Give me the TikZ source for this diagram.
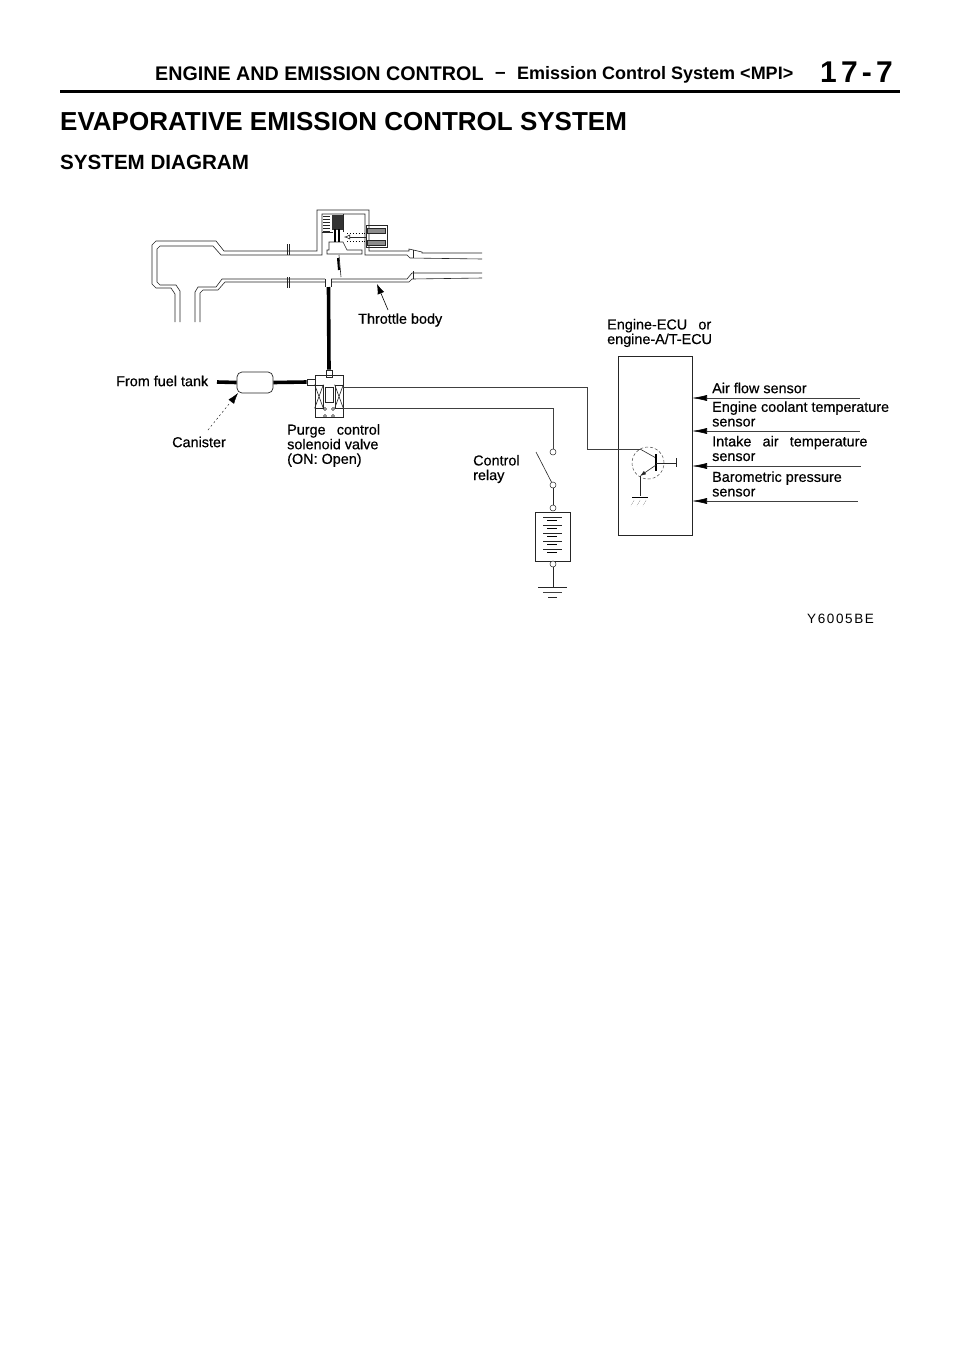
\documentclass[tikz,border=0pt]{standalone}
\usepackage{fontspec}
\setmainfont{Liberation Sans}
\newfontfamily\scanfont[RawFeature={embolden=0.5}]{Liberation Sans}
\usetikzlibrary{arrows.meta,shapes.geometric}
\tikzset{
    wall/.style={draw=black!85,line width=0.6pt},
    wire/.style={draw=black!75,line width=0.55pt},
    hose/.style={draw=black,line width=3.6pt},
    box/.style={draw=black!85,line width=0.7pt,inner sep=0pt,minimum width=#1},
    lbl/.style={align=left,anchor=west,inner sep=0pt,font=\scanfont\fontsize{14.4}{14.6}\selectfont},
    head/.style={anchor=west,inner sep=0pt,font=\bfseries\fontsize{#1}{#1}\selectfont},
    term/.style={circle,draw=black!85,fill=white,line width=0.5pt,inner sep=0pt,minimum size=6pt},
    feed/.style={wire,{Latex[length=15pt,width=6pt,black]}-},
    pointer/.style={draw=black,line width=0.6pt,{Latex[length=10pt,width=7pt]}-}
}
\begin{document}
\begin{tikzpicture}[x=1pt,y=-1pt]
        \useasboundingbox (0,0) rectangle (960,1358);
        \fill[white] (0,0) rectangle (960,1358);

        \node[head=19.7] (hdr1) at (155,74) {ENGINE AND EMISSION CONTROL};
        \node[head=19] (hdr2) at (495,75) {--};
        \node[head=18] (hdr3) at (517,75) {Emission Control System <MPI>};
        \node[head=30] (hdr4) at (820,72) {\addfontfeature{LetterSpace=14}17-7};
        \coordinate (ruleL) at (60,91);
        \coordinate (ruleR) at (900,91);
        \draw[line width=3pt] (ruleL) -- (ruleR);
        \node[head=26] (title) at (60,122) {EVAPORATIVE EMISSION CONTROL SYSTEM};
        \node[head=20.6] (subtitle) at (60,162) {SYSTEM DIAGRAM};

        \draw[wall] (175,322) -- (175,294) -- (171,288) -- (156,288) -- (152,284) -- (152,245) -- (156,241) -- (216,241) -- (224,251) -- (317,251) -- (317,210) -- (369,210) -- (369,251) -- (409,251) -- (409,249) -- (422,252) -- (422,253) -- (482,253);
        \draw[wall] (180,322) -- (180,291) -- (176,285) -- (160,285) -- (157,282) -- (157,249) -- (160,246) -- (213,246) -- (221,255) -- (322,255) -- (322,214) -- (365,214) -- (365,255) -- (407,255) -- (410,258) -- (482,259);
        \draw[wall] (195,322) -- (195,292) -- (198,287) -- (216,287) -- (222,279) -- (325,279);
        \draw[wall] (200,322) -- (200,293) -- (203,290) -- (218,290) -- (225,282) -- (325,282);
        \draw[wall] (331,279) -- (407,279) -- (412,273) -- (482,273);
        \draw[wall] (331,282) -- (409,282) -- (412,279) -- (482,278);
        \draw[wall] (325,279) -- (325,287) (331,279) -- (331,287);
        \draw[wall] (287,244) -- (287,255) (289,244) -- (289,255) (287,277) -- (287,288) (289,277) -- (289,288);
        \draw[wall] (413,250) -- (413,258) (413,271) -- (413,279);

        \draw[wall] (343,214) -- (343,232) (322,232) -- (333,232);
        \draw[wall,fill=white] (327,254) -- (327,250) -- (329,250) -- (329,242) -- (343,242) -- (347,250) -- (362,250) -- (362,254) -- cycle;
        \foreach \ypos in {216,219,222,225,228,231} {
            \draw[wall] (323,\ypos) -- (330,\ypos);
        }
        \fill[black!80] (332,215) rectangle (343,230);
        \draw[line width=1.2pt] (335,229) -- (335,242) (339,229) -- (339,242);
        \draw[wall] (339,255) -- (341,277);
        \draw[line width=2pt] (338,258) -- (339,270);
        \draw[dotted,line width=0.9pt] (347,233) -- (366,233) (347,241) -- (366,241);
        \node[box=21pt,minimum height=22pt] (vacbox) at (376.5,236) {};
        \node[box=18pt,minimum height=5pt,fill=black!45] (vacup) at (376,230.5) {};
        \node[box=18pt,minimum height=5pt,fill=black!45] (vacdn) at (376,242.5) {};
        \coordinate (vacin) at (366,237);
        \coordinate (vactip) at (344,237);
        \draw[wall,-{Latex[open,length=6pt,width=5pt]}] (vacin) -- (vactip);

        \node[lbl] (throttle) at (358,320) {Throttle body};
        \coordinate (throttletip) at (377,284);
        \coordinate (throttlefoot) at (388,310);
        \draw[pointer] (throttletip) -- (throttlefoot);

        \node[lbl] (fueltank) at (116,381) {From fuel tank};
        \node[draw=black!85,line width=0.7pt,rounded corners=5pt,minimum width=36pt,minimum height=21pt,inner sep=0pt] (canister) at (255,382.5) {};
        \node[box=28pt,minimum height=42pt] (solenoid) at (329,396) {};
        \node[box=6pt,minimum height=7pt] (nozzle) at (329,373.5) {};
        \node[box=8pt,minimum height=6pt] (port) at (311,382) {};
        \node[box=8pt,minimum height=23pt] (coilL) at (319,396.5) {};
        \node[box=8pt,minimum height=23pt] (coilR) at (339,396.5) {};
        \node[box=8pt,minimum height=15pt] (plunger) at (329,394.5) {};
        \draw[wall] (coilL.north west) -- (coilL.south east) (coilL.south west) -- (coilL.north east);
        \draw[wall] (coilR.north west) -- (coilR.south east) (coilR.south west) -- (coilR.north east);
        \foreach \xpos/\ypos in {325/409,333/409,325/416,333/416} {
            \draw[wall,line width=0.4pt] (\xpos,\ypos) circle (1.5);
        }
        \coordinate (tankend) at (217,382);
        \draw[hose] (tankend) -- (canister.west);
        \draw[hose] (canister.east) -- (port.west);
        \coordinate (bodyport) at (328.5,287);
        \draw[hose] (bodyport) -- (nozzle.north);

        \node[lbl] (canlabel) at (172,442) {Canister};
        \coordinate (canfoot) at (208,430);
        \coordinate (cantip) at (238,393);
        \draw[dashed,line width=0.4pt,dash pattern=on 2pt off 2.5pt] (canfoot) -- (229,404);
        \draw[draw=black,{Latex[length=11pt,width=7pt]}-] (cantip) -- (231,402);
        \node[lbl] (purge) at (287,445.5) {Purge\hspace{0.5em} control\\solenoid valve\\(ON: Open)};
        \node[lbl] (relay) at (473,469) {Control\\relay};

        \coordinate (feedA) at (343,387);
        \coordinate (feedB) at (343,408);
        \node[term] (contactA) at (553,452) {};
        \node[term] (contactB) at (553,485) {};
        \node[term] (batplus) at (553,508) {};
        \node[box=35pt,minimum height=49pt] (battery) at (552.5,536.5) {};
        \node[term] (batminus) at (553,564) {};
        \draw[wire] (feedB) -- (553,408) -- (contactA);
        \draw[wall] (contactB) -- (536,452);
        \draw[wall] (contactB) -- (batplus);
        \foreach \ypos in {517,525,533,541,549} {
            \draw[wall] (543,\ypos) -- (562,\ypos);
            \draw[line width=1pt] (547,\ypos+3.5) -- (557,\ypos+3.5);
        }
        \coordinate (gndbat) at (553,587);
        \draw[wall] (batminus) -- (gndbat);
        \draw[wall] (538,587) -- (567,587);
        \draw[wire,line width=0.4pt] (543,592) -- (562,592);
        \draw[wall] (548,597) -- (557,597);

        \node[lbl] (ecu) at (607,333) {Engine-ECU\hspace{0.5em} or\\engine-A/T-ECU};
        \node[box=74pt,minimum height=179pt] (ecubox) at (655,445.5) {};
        \node[circle,draw=black!70,densely dashed,line width=0.5pt,minimum size=32pt,inner sep=0pt] (trans) at (648,463) {};
        \coordinate (collector) at (640,449);
        \coordinate (emitter) at (640,476);
        \coordinate (baseup) at (656,454);
        \coordinate (basedn) at (656,471);
        \coordinate (basepin) at (676,463);
        \coordinate (gndecu) at (640,496);
        \draw[wire] (feedA) -- (587,387) -- (587,449) -- (collector);
        \draw[wall] (collector) -- (656,458);
        \draw[line width=1.4pt] (baseup) -- (basedn);
        \draw[wall,{Latex[length=6pt,width=4pt]}-] (emitter) -- (656,465);
        \draw[wall] (emitter) -- (gndecu);
        \draw[wall] (656,463) -- (basepin);
        \draw[wall] (676,458) -- (676,467);
        \draw[line width=0.9pt] (632,497) -- (648,497);
        \foreach \xpos in {631,637,643} {
            \draw[line width=0.3pt,densely dotted] (\xpos+3,500) -- (\xpos,506);
        }

        \node[lbl] (airflow) at (712,388) {Air flow sensor};
        \node[lbl] (coolant) at (712,414) {Engine coolant temperature\\sensor};
        \node[lbl] (intake) at (712,448.5) {Intake\hspace{0.5em} air\hspace{0.5em} temperature\\sensor};
        \node[lbl] (baro) at (712,484) {Barometric pressure\\sensor};
        \foreach \ypos/\xend in {398/860,431/860,466/861,501/858} {
            \coordinate (sensor\ypos) at (\xend,\ypos);
            \coordinate (ecupin\ypos) at (692,\ypos);
            \draw[feed] (ecupin\ypos) -- (sensor\ypos);
        }

        \node[anchor=west,inner sep=0pt,font=\fontsize{13.5}{14}\selectfont] (figcode) at (807,619) {\addfontfeature{LetterSpace=12}Y6005BE};
    \end{tikzpicture}
\end{document}
